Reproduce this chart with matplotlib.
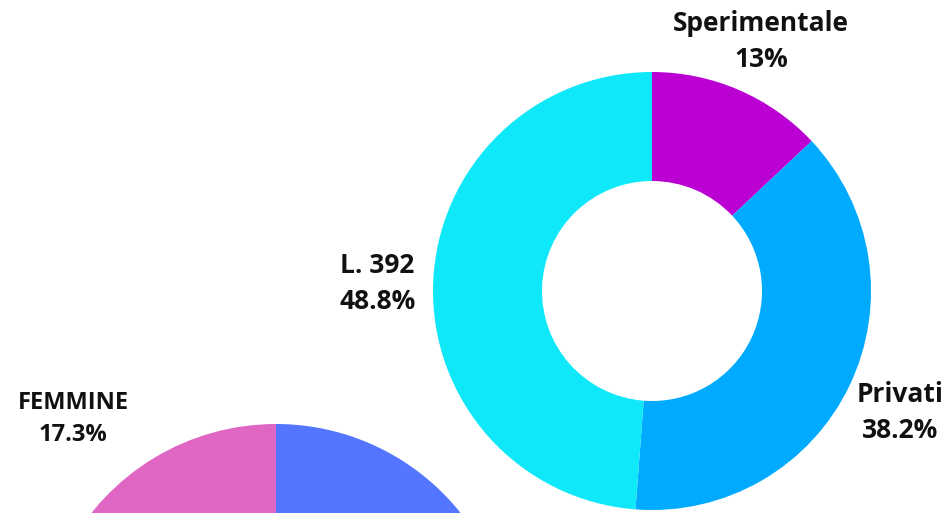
import matplotlib.pyplot as plt

plt.rcParams['font.family'] = ['Open Sans', 'DejaVu Sans']

# donut: tipologia
tipo_labels = ['Sperimentale', 'Privati', 'L. 392']
tipo_values = [13, 38.2, 48.8]
tipo_colors = ['#BB00D4', '#00AAFF', '#0EE8F8']

# torta: genere
genere_labels = ['MASCHI', 'FEMMINE']
genere_values = [82.7, 17.3]
genere_colors = ['#5475FF', '#E066C4']

W, H = 953, 513
fig = plt.figure(figsize=(W / 100, H / 100), dpi=100)
ax = fig.add_axes([0, 0, 1, 1])

# donut in alto a destra
wedges, texts = ax.pie(tipo_values, colors=tipo_colors, startangle=90, counterclock=False,
                       center=(652, H - 291), radius=219,
                       wedgeprops=dict(width=109, linewidth=0),
                       labels=[f'{l}\n{v:g}%' for l, v in zip(tipo_labels, tipo_values)],
                       labeldistance=1.255,
                       textprops=dict(fontsize=19, fontweight='bold', color='#111111',
                                      ha='center', va='center', linespacing=1.45))
# le etichette stanno un po' piu' in basso
for t in texts:
    x, y = t.get_position()
    t.set_position((x, y - 3))

# torta in basso a sinistra (tagliata)
ax.pie(genere_values, colors=genere_colors, startangle=90, counterclock=False,
       center=(276, H - 660), radius=236, wedgeprops=dict(linewidth=0))
ax.text(73, H - 419, f'{genere_labels[1]}\n{genere_values[1]:g}%', fontsize=17,
        fontweight='bold', color='#111111', ha='center', va='center', linespacing=1.45)

ax.set_xlim(0, W)
ax.set_ylim(0, H)
ax.set_aspect('auto')
ax.axis('off')

fig.savefig('out.png', dpi=100)
